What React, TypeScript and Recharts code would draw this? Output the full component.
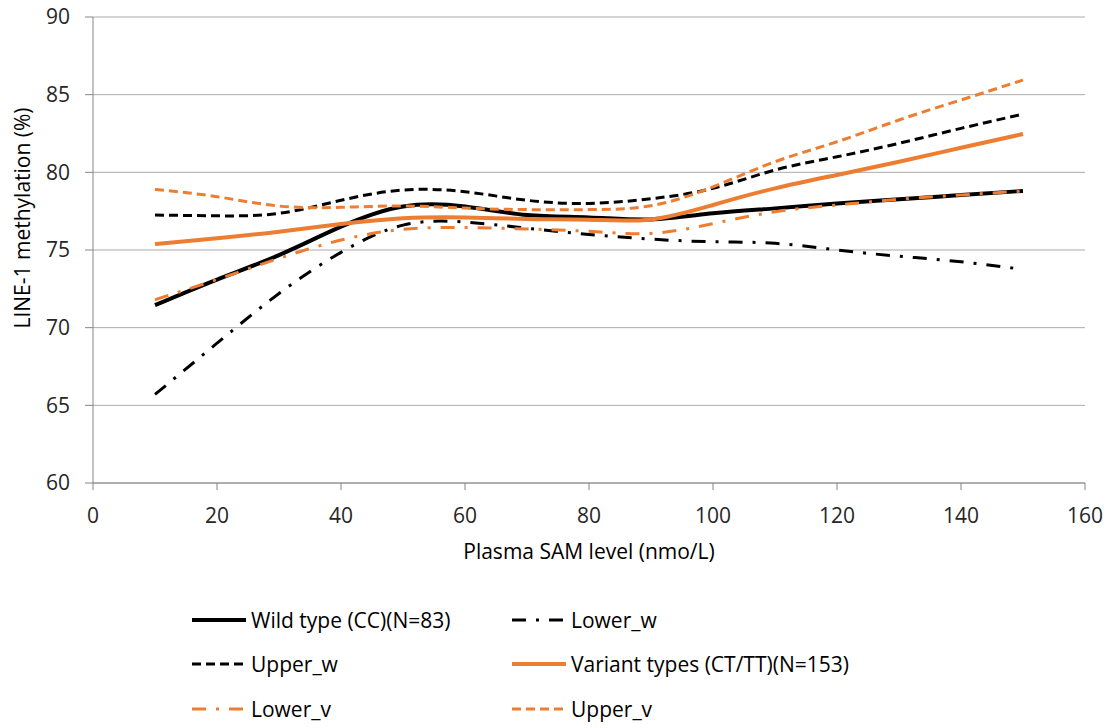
import React from "react";
import { LineChart, Line, XAxis, YAxis, CartesianGrid } from "recharts";

const samLevels = [10, 20, 30, 40, 50, 60, 70, 80, 90, 100, 110, 120, 130, 140, 150];

const wildType = [71.45, 73.1, 74.67, 76.5, 77.8, 77.8, 77.25, 77.1, 76.97, 77.36, 77.68, 78.0, 78.26, 78.54, 78.8];
const lowerW = [65.7, 69.0, 72.2, 74.85, 76.6, 76.8, 76.4, 76.0, 75.7, 75.53, 75.43, 75.0, 74.6, 74.24, 73.75];
const upperW = [77.25, 77.2, 77.36, 78.2, 78.86, 78.75, 78.2, 78.0, 78.3, 78.97, 80.15, 81.0, 81.87, 82.83, 83.75];
const variant = [75.38, 75.75, 76.18, 76.67, 77.04, 77.1, 77.0, 76.95, 76.97, 77.9, 78.97, 79.83, 80.68, 81.58, 82.47];
const lowerV = [71.8, 73.1, 74.46, 75.64, 76.33, 76.45, 76.35, 76.2, 76.07, 76.7, 77.46, 77.9, 78.26, 78.54, 78.8];
const upperV = [78.9, 78.43, 77.83, 77.75, 77.83, 77.7, 77.6, 77.6, 77.85, 79.07, 80.68, 81.97, 83.37, 84.66, 85.94];

const xTicks = [0, 20, 40, 60, 80, 100, 120, 140, 160];
const yTicks = [60, 65, 70, 75, 80, 85, 90];

const ORANGE = "#ED7D31";
const FONT = "'Open Sans', sans-serif";
const FS = 21;

const series = [
  { key: "wild", name: "Wild type (CC)(N=83)", values: wildType, color: "#000", width: 4, dash: undefined as string | undefined },
  { key: "lowerW", name: "Lower_w", values: lowerW, color: "#000", width: 3, dash: "14 10 3 10" },
  { key: "upperW", name: "Upper_w", values: upperW, color: "#000", width: 3, dash: "9 5" },
  { key: "variant", name: "Variant types (CT/TT)(N=153)", values: variant, color: ORANGE, width: 4, dash: undefined },
  { key: "lowerV", name: "Lower_v", values: lowerV, color: ORANGE, width: 3, dash: "14 10 3 10" },
  { key: "upperV", name: "Upper_v", values: upperV, color: ORANGE, width: 3, dash: "9 5" },
];

const data = samLevels.map((x, i) => {
  const row: Record<string, number> = { x };
  series.forEach((s) => {
    row[s.key] = s.values[i];
  });
  return row;
});

const XTitle = () => (
  <text x={589} y={559} textAnchor="middle" fontFamily={FONT} fontSize={FS} fill="#000">
    Plasma SAM level (nmo/L)
  </text>
);

const YTitle = () => (
  <text
    x={30}
    y={218}
    textAnchor="middle"
    fontFamily={FONT}
    fontSize={FS}
    fill="#000"
    transform="rotate(-90 30 218)"
  >
    LINE-1 methylation (%)
  </text>
);

// legend positions: two columns, three rows
const legendCols = [190, 510];
const legendRows = [620, 664, 709];

export default function App() {
  return (
    <div style={{ position: "absolute", left: 0, top: 0, width: 1117, height: 728, background: "#fff" }}>
      <LineChart width={1117} height={585} data={data} margin={{ top: 17, right: 32, bottom: 0, left: 0 }}>
        <CartesianGrid horizontal vertical={false} stroke="#ABABAB" strokeWidth={1} />
        <XAxis
          dataKey="x"
          type="number"
          domain={[0, 160]}
          ticks={xTicks}
          height={102}
          stroke="#868686"
          tickSize={7}
          tickMargin={18}
          tick={{ fill: "#262626", fontSize: FS, fontFamily: FONT }}
          label={<XTitle />}
        />
        <YAxis
          type="number"
          domain={[60, 90]}
          ticks={yTicks}
          width={93}
          stroke="#868686"
          tickSize={8}
          tickMargin={15}
          tick={{ fill: "#262626", fontSize: FS, fontFamily: FONT }}
          label={<YTitle />}
        />
        {series.map((s) => (
          <Line
            key={s.key}
            dataKey={s.key}
            name={s.name}
            type="natural"
            stroke={s.color}
            strokeWidth={s.width}
            strokeDasharray={s.dash}
            dot={false}
            isAnimationActive={false}
          />
        ))}
      </LineChart>
      {series.map((s, i) => {
        const col = i % 2;
        const row = Math.floor(i / 2);
        const left = legendCols[col];
        const top = legendRows[row];
        return (
          <div
            key={s.key}
            style={{ position: "absolute", left, top: top - 15, height: 30, display: "flex", alignItems: "center" }}
          >
            <svg width={58} height={30} style={{ display: "block" }}>
              <line
                x1={2}
                x2={56}
                y1={15}
                y2={15}
                stroke={s.color}
                strokeWidth={s.width}
                strokeDasharray={s.dash}
              />
            </svg>
            <span style={{ fontFamily: FONT, fontSize: FS, color: "#000", marginLeft: 3, whiteSpace: "nowrap" }}>
              {s.name}
            </span>
          </div>
        );
      })}
    </div>
  );
}
